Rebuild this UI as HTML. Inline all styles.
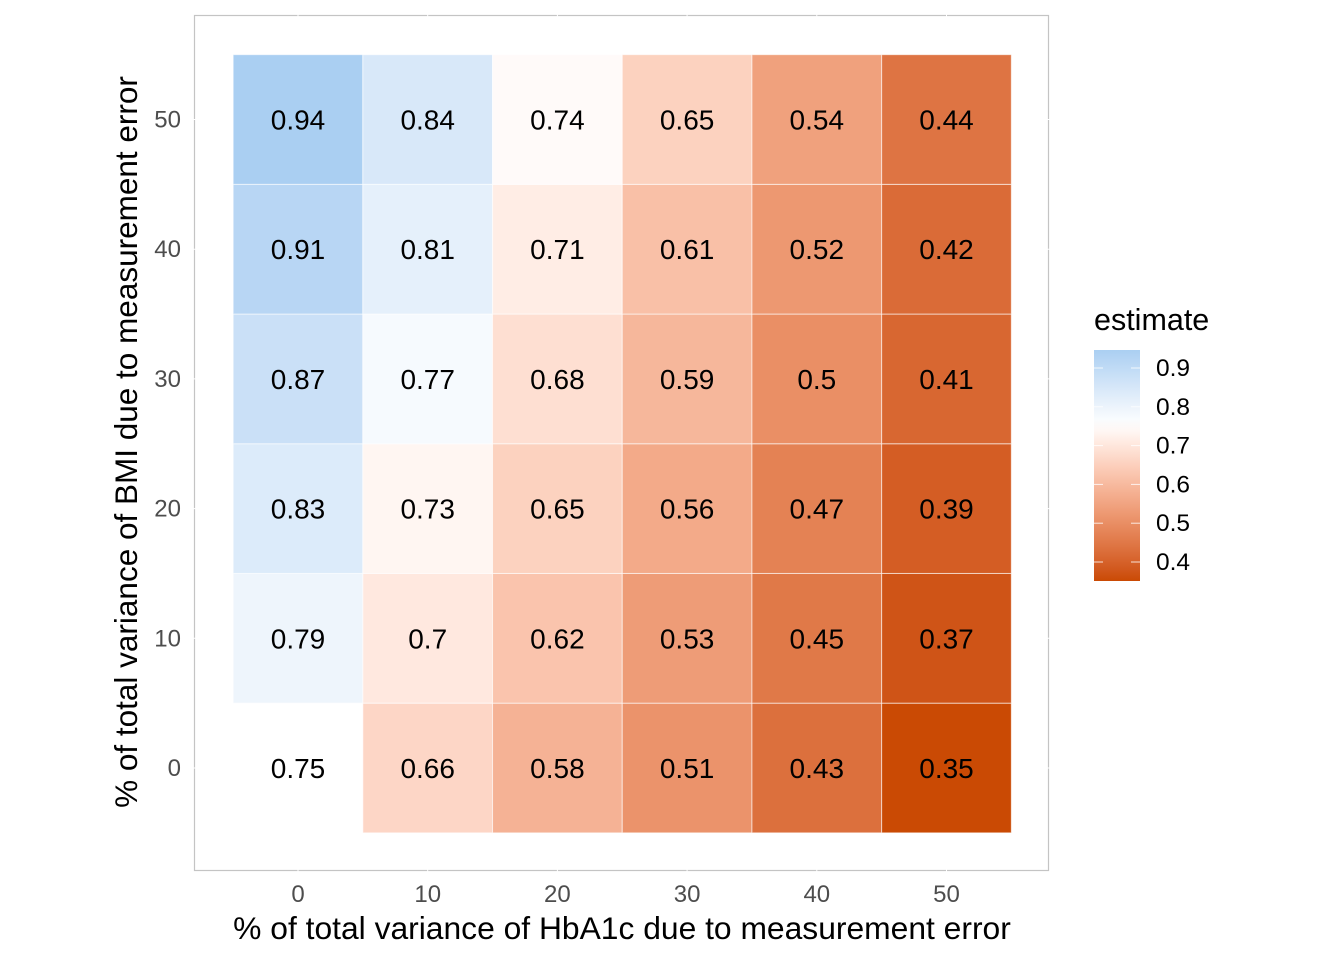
<!DOCTYPE html>
<html><head><meta charset="utf-8"><style>
body{margin:0;background:#fff;}
svg{display:block;font-family:"Liberation Sans",Arial,sans-serif;}
</style></head><body>
<svg id="chart" width="1344" height="960">
<rect x="194.5" y="15.5" width="854" height="855" fill="none" stroke="#c4c4c4" stroke-width="1.2"/>
<g id="axes"></g>
<g id="tiles"></g>
<text x="622" y="939" text-anchor="middle" font-size="31.8">% of total variance of HbA1c due to measurement error</text>
<text transform="translate(137,442) rotate(-90)" text-anchor="middle" font-size="31.5">% of total variance of BMI due to measurement error</text>
<text x="1094" y="330" font-size="30.5">estimate</text>
<defs><linearGradient id="lg" x1="0" y1="1" x2="0" y2="0"></linearGradient></defs>
<rect x="1094" y="350" width="46" height="231" fill="url(#lg)"/>
<g id="legend"></g>
</svg>
<script>
const xCats=[0,10,20,30,40,50];
const yCats=[0,10,20,30,40,50];
const values=[
 [0.75,0.66,0.58,0.51,0.43,0.35],
 [0.79,0.70,0.62,0.53,0.45,0.37],
 [0.83,0.73,0.65,0.56,0.47,0.39],
 [0.87,0.77,0.68,0.59,0.50,0.41],
 [0.91,0.81,0.71,0.61,0.52,0.42],
 [0.94,0.84,0.74,0.65,0.54,0.44]];
const labels=[
 ["0.75","0.66","0.58","0.51","0.43","0.35"],
 ["0.79","0.7","0.62","0.53","0.45","0.37"],
 ["0.83","0.73","0.65","0.56","0.47","0.39"],
 ["0.87","0.77","0.68","0.59","0.5","0.41"],
 ["0.91","0.81","0.71","0.61","0.52","0.42"],
 ["0.94","0.84","0.74","0.65","0.54","0.44"]];
const legendTicks=[0.4,0.5,0.6,0.7,0.8,0.9];
const vMin=0.35,vMid=0.75,vMax=0.94;

const NS="http://www.w3.org/2000/svg";
const step=129.7;
const xS=v=>298+(v-0)/10*step;
const yS=v=>768-(v-0)/10*step;
const lgY=v=>562-(v-0.4)/0.1*38.8;

function toLab(h){let r=parseInt(h.slice(1,3),16)/255,g=parseInt(h.slice(3,5),16)/255,b=parseInt(h.slice(5,7),16)/255;
 const f=c=>c>0.04045?Math.pow((c+0.055)/1.055,2.4):c/12.92;r=f(r);g=f(g);b=f(b);
 let X=(r*0.4124+g*0.3576+b*0.1805)/0.95047,Y=r*0.2126+g*0.7152+b*0.0722,Z=(r*0.0193+g*0.1192+b*0.9505)/1.08883;
 const q=t=>t>0.008856?Math.cbrt(t):7.787*t+16/116;
 return [116*q(Y)-16,500*(q(X)-q(Y)),200*(q(Y)-q(Z))];}
function fromLab(L){let y=(L[0]+16)/116,x=L[1]/500+y,z=y-L[2]/200;
 const q=t=>t*t*t>0.008856?t*t*t:(t-16/116)/7.787;
 x=q(x)*0.95047;y=q(y);z=q(z)*1.08883;
 let r=x*3.2406+y*-1.5372+z*-0.4986,g=x*-0.9689+y*1.8758+z*0.0415,b=x*0.0557+y*-0.2040+z*1.0570;
 const f=c=>{c=c>0.0031308?1.055*Math.pow(c,1/2.4)-0.055:12.92*c;return Math.round(Math.max(0,Math.min(1,c))*255);};
 return `rgb(${f(r)},${f(g)},${f(b)})`;}
const lo=toLab("#ca4a04"),mid=toLab("#ffffff"),hi=toLab("#aacff2");
function col(v){let a,b,t;if(v<=vMid){a=lo;b=mid;t=(v-vMin)/(vMid-vMin);}else{a=mid;b=hi;t=(v-vMid)/(vMax-vMid);}
 t=Math.max(0,Math.min(1,t));return fromLab([0,1,2].map(i=>a[i]+(b[i]-a[i])*t));}

const axes=document.getElementById('axes');
xCats.forEach(c=>{const l=document.createElementNS(NS,'line');
 
 
 l.setAttribute('x1',xS(c));l.setAttribute('x2',xS(c));l.setAttribute('y1',14);l.setAttribute('y2',872);l.setAttribute('stroke','#ffffff');axes.appendChild(l);
 const t=document.createElementNS(NS,'text');
 
 
 t.setAttribute('x',xS(c));t.setAttribute('y',902);t.setAttribute('text-anchor','middle');t.setAttribute('font-size','24');t.setAttribute('fill','#4d4d4d');t.textContent=c;axes.appendChild(t);});
yCats.forEach(c=>{const l=document.createElementNS(NS,'line');
 
 
 l.setAttribute('y1',yS(c));l.setAttribute('y2',yS(c));l.setAttribute('x1',193);l.setAttribute('x2',1050);l.setAttribute('stroke','#ffffff');axes.appendChild(l);
 const t=document.createElementNS(NS,'text');
 
 
 t.setAttribute('x',181);t.setAttribute('y',yS(c)+8);t.setAttribute('text-anchor','end');t.setAttribute('font-size','24');t.setAttribute('fill','#4d4d4d');t.textContent=c;axes.appendChild(t);});

const tiles=document.getElementById('tiles');
values.forEach((row,ri)=>row.forEach((v,ci)=>{
 const x=xS(xCats[ci]),y=yS(yCats[ri]);
 const r=document.createElementNS(NS,'rect');
 
 
 r.setAttribute('x',x-step/2);r.setAttribute('y',y-step/2);r.setAttribute('width',step);r.setAttribute('height',step);
 r.setAttribute('fill',col(v));r.setAttribute('stroke','rgba(255,255,255,0.6)');r.setAttribute('stroke-width','1');tiles.appendChild(r);
 const t=document.createElementNS(NS,'text');
 
 
 t.setAttribute('x',x);t.setAttribute('y',y+10);t.setAttribute('text-anchor','middle');t.setAttribute('font-size','28');t.textContent=labels[ri][ci];tiles.appendChild(t);
}));

const lg=document.getElementById('lg');
for(let i=0;i<=20;i++){const v=vMin+(vMax-vMin)*i/20;const s=document.createElementNS(NS,'stop');
 s.setAttribute('offset',(i/20));s.setAttribute('stop-color',col(v));lg.appendChild(s);}
const legend=document.getElementById('legend');
legendTicks.forEach(v=>{const y=lgY(v);
 [[1094,1103],[1131,1140]].forEach(p=>{const l=document.createElementNS(NS,'line');
  
  
  l.setAttribute('x1',p[0]);l.setAttribute('x2',p[1]);l.setAttribute('y1',y);l.setAttribute('y2',y);l.setAttribute('stroke','rgba(255,255,255,0.8)');legend.appendChild(l);});
 const t=document.createElementNS(NS,'text');
 
 
 t.setAttribute('x',1156);t.setAttribute('y',y+8);t.setAttribute('font-size','24.5');t.textContent=v.toFixed(1);legend.appendChild(t);});
</script>
</body></html>
